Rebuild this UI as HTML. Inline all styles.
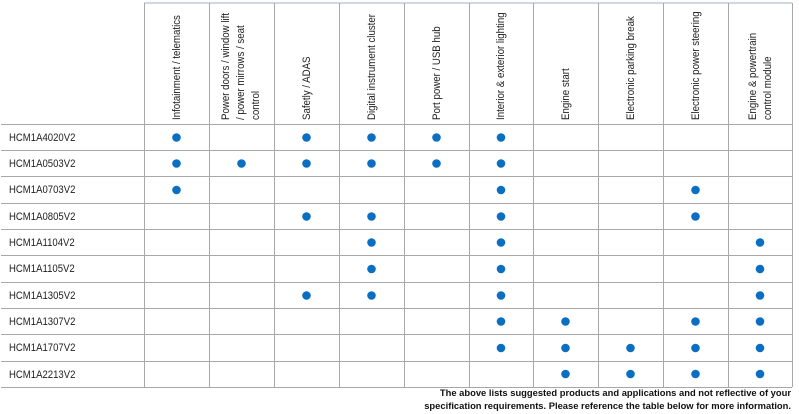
<!DOCTYPE html>
<html><head><style>
body{margin:0;background:#fff;}
svg{display:block;font-family:"Liberation Sans",sans-serif;}
</style></head><body>
<svg width="799" height="414" xmlns="http://www.w3.org/2000/svg">
<g stroke="#a8a8a8" stroke-width="1">
<line x1="144" y1="3" x2="792" y2="3" stroke="#9fb0c0"/>
<line x1="144.5" y1="3" x2="144.5" y2="387"/>
<line x1="209.5" y1="3" x2="209.5" y2="387"/>
<line x1="274.5" y1="3" x2="274.5" y2="387"/>
<line x1="339.5" y1="3" x2="339.5" y2="387"/>
<line x1="404.5" y1="3" x2="404.5" y2="387"/>
<line x1="469.5" y1="3" x2="469.5" y2="387"/>
<line x1="533.5" y1="3" x2="533.5" y2="387"/>
<line x1="598.5" y1="3" x2="598.5" y2="387"/>
<line x1="663.5" y1="3" x2="663.5" y2="387"/>
<line x1="728.5" y1="3" x2="728.5" y2="387"/>
<line x1="792.5" y1="3" x2="792.5" y2="387"/>
<line x1="1" y1="124.5" x2="792" y2="124.5"/>
<line x1="1" y1="150.5" x2="792" y2="150.5"/>
<line x1="1" y1="176.5" x2="792" y2="176.5"/>
<line x1="1" y1="203.5" x2="792" y2="203.5"/>
<line x1="1" y1="229.5" x2="792" y2="229.5"/>
<line x1="1" y1="255.5" x2="792" y2="255.5"/>
<line x1="1" y1="282.5" x2="792" y2="282.5"/>
<line x1="1" y1="308.5" x2="792" y2="308.5"/>
<line x1="1" y1="334.5" x2="792" y2="334.5"/>
<line x1="1" y1="361.5" x2="792" y2="361.5"/>
<line x1="1" y1="387.5" x2="792" y2="387.5"/>
</g>
<g font-size="11" fill="#222">
<text transform="translate(180,120) rotate(-90) scale(0.88,1)">Infotainment / telematics</text>
<text transform="translate(229,120) rotate(-90) scale(0.88,1)">Power doors / window lift</text>
<text transform="translate(244,120) rotate(-90) scale(0.88,1)">/ power mirrows / seat</text>
<text transform="translate(259,120) rotate(-90) scale(0.88,1)">control</text>
<text transform="translate(310,120) rotate(-90) scale(0.88,1)">Safetly / ADAS</text>
<text transform="translate(375,120) rotate(-90) scale(0.88,1)">Digital instrument cluster</text>
<text transform="translate(440,120) rotate(-90) scale(0.88,1)">Port power / USB hub</text>
<text transform="translate(504,120) rotate(-90) scale(0.88,1)">Interior &amp; exterior lighting</text>
<text transform="translate(569,120) rotate(-90) scale(0.88,1)">Engine start</text>
<text transform="translate(634,120) rotate(-90) scale(0.88,1)">Electronic parking break</text>
<text transform="translate(699,120) rotate(-90) scale(0.88,1)">Electronic power steering</text>
<text transform="translate(756,120) rotate(-90) scale(0.88,1)">Engine &amp; powertrain</text>
<text transform="translate(771,120) rotate(-90) scale(0.88,1)">control module</text>
<g transform="translate(9,0) scale(0.87,1)">
<text x="0" y="141">HCM1A4020V2</text>
<text x="0" y="167">HCM1A0503V2</text>
<text x="0" y="193">HCM1A0703V2</text>
<text x="0" y="220">HCM1A0805V2</text>
<text x="0" y="246">HCM1A1104V2</text>
<text x="0" y="272">HCM1A1105V2</text>
<text x="0" y="299">HCM1A1305V2</text>
<text x="0" y="325">HCM1A1307V2</text>
<text x="0" y="351">HCM1A1707V2</text>
<text x="0" y="378">HCM1A2213V2</text>
</g>
</g>
<g fill="#0a6fc2">
<circle cx="176.5" cy="137.5" r="4.3"/><circle cx="306.5" cy="137.5" r="4.3"/><circle cx="371.5" cy="137.5" r="4.3"/><circle cx="436.5" cy="137.5" r="4.3"/><circle cx="501" cy="137.5" r="4.3"/>
<circle cx="176.5" cy="163.5" r="4.3"/><circle cx="241.5" cy="163.5" r="4.3"/><circle cx="306.5" cy="163.5" r="4.3"/><circle cx="371.5" cy="163.5" r="4.3"/><circle cx="436.5" cy="163.5" r="4.3"/><circle cx="501" cy="163.5" r="4.3"/>
<circle cx="176.5" cy="190" r="4.3"/><circle cx="501" cy="190" r="4.3"/><circle cx="695.5" cy="190" r="4.3"/>
<circle cx="306.5" cy="216.5" r="4.3"/><circle cx="371.5" cy="216.5" r="4.3"/><circle cx="501" cy="216.5" r="4.3"/><circle cx="695.5" cy="216.5" r="4.3"/>
<circle cx="371.5" cy="242.5" r="4.3"/><circle cx="501" cy="242.5" r="4.3"/><circle cx="760" cy="242.5" r="4.3"/>
<circle cx="371.5" cy="269" r="4.3"/><circle cx="501" cy="269" r="4.3"/><circle cx="760" cy="269" r="4.3"/>
<circle cx="306.5" cy="295.5" r="4.3"/><circle cx="371.5" cy="295.5" r="4.3"/><circle cx="501" cy="295.5" r="4.3"/><circle cx="760" cy="295.5" r="4.3"/>
<circle cx="501" cy="321.5" r="4.3"/><circle cx="565.5" cy="321.5" r="4.3"/><circle cx="695.5" cy="321.5" r="4.3"/><circle cx="760" cy="321.5" r="4.3"/>
<circle cx="501" cy="348" r="4.3"/><circle cx="565.5" cy="348" r="4.3"/><circle cx="630.5" cy="348" r="4.3"/><circle cx="695.5" cy="348" r="4.3"/><circle cx="760" cy="348" r="4.3"/>
<circle cx="565.5" cy="374" r="4.3"/><circle cx="630.5" cy="374" r="4.3"/><circle cx="695.5" cy="374" r="4.3"/><circle cx="760" cy="374" r="4.3"/>
</g>
<g font-size="9.4" fill="#111" text-anchor="end" font-weight="bold">
<text x="791" y="396">The above lists suggested products and applications and not reflective of your</text>
<text x="791" y="409">specification requirements. Please reference the table below for more information.</text>
</g>
</svg>
</body></html>
